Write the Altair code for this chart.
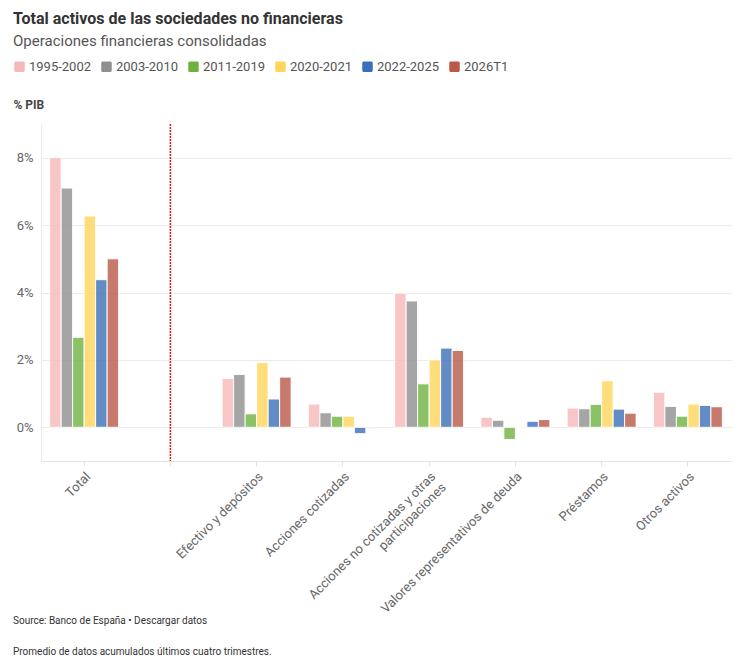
import altair as alt
import pandas as pd

# ---------------- data ----------------
CATEGORIES = [
    "Total",
    " ",
    "Efectivo y depósitos",
    "Acciones cotizadas",
    "Acciones no cotizadas y otras participaciones",
    "Valores representativos de deuda",
    "Préstamos",
    "Otros activos",
]
ASSET_CATS = [c for c in CATEGORIES if c.strip()]
PERIODS = ["1995-2002", "2003-2010", "2011-2019", "2020-2021", "2022-2025", "2026T1"]
COLORS = ["#f7b8b8", "#8f8f8f", "#6db33f", "#ffd55a", "#3a70b8", "#b85a48"]

V_1995_2002 = [8.00, 1.45, 0.69, 3.98, 0.30, 0.57, 1.04]
V_2003_2010 = [7.10, 1.57, 0.43, 3.75, 0.21, 0.55, 0.62]
V_2011_2019 = [2.67, 0.40, 0.33, 1.29, -0.36, 0.68, 0.33]
V_2020_2021 = [6.27, 1.92, 0.33, 2.00, -0.03, 1.38, 0.69]
V_2022_2025 = [4.38, 0.84, -0.19, 2.35, 0.18, 0.54, 0.65]
V_2026T1 = [5.00, 1.49, -0.03, 2.28, 0.23, 0.42, 0.61]
SERIES = [V_1995_2002, V_2003_2010, V_2011_2019, V_2020_2021, V_2022_2025, V_2026T1]

Y_TICKS = [0, 2, 4, 6, 8]

TITLE = "Total activos de las sociedades no financieras"
SUBTITLE = "Operaciones financieras consolidadas"
Y_TITLE = "% PIB"
SOURCE = "Source: Banco de España • Descargar datos"
NOTE = "Promedio de datos acumulados últimos cuatro trimestres."

rows = []
for p, vals in zip(PERIODS, SERIES):
    for c, v in zip(ASSET_CATS, vals):
        rows.append({"categoria": c, "periodo": p, "valor": v})
df = pd.DataFrame(rows)

FONT = "Roboto"

x_enc = alt.X(
    "categoria:N",
    sort=CATEGORIES,
    scale=alt.Scale(domain=CATEGORIES, paddingInner=0.2, paddingOuter=0.1),
    title=None,
    axis=alt.Axis(
        labelAngle=-45,
        labelFontSize=13,
        labelColor="#666666",
        labelFont=FONT,
        labelLimit=400,
        labelPadding=4,
        tickColor="#e3e3e3",
        domainColor="#e3e3e3",
        tickSize=5,
        grid=False,
        labelExpr="datum.label == 'Acciones no cotizadas y otras participaciones' ? ['Acciones no cotizadas y otras', 'participaciones'] : datum.label",
    ),
)

square_path = (
    "M -0.7 -1 H 0.7 A 0.3 0.3 0 0 1 1 -0.7 V 0.7 A 0.3 0.3 0 0 1 0.7 1 "
    "H -0.7 A 0.3 0.3 0 0 1 -1 0.7 V -0.7 A 0.3 0.3 0 0 1 -0.7 -1 Z"
)

bars = alt.Chart(df).mark_bar(opacity=0.8, stroke="white", strokeWidth=1).encode(
    x=x_enc,
    xOffset=alt.XOffset("periodo:N", sort=PERIODS, scale=alt.Scale(domain=PERIODS)),
    y=alt.Y(
        "valor:Q",
        scale=alt.Scale(domain=[-1, 9], nice=False, zero=True),
        axis=alt.Axis(
            values=Y_TICKS,
            labelExpr="datum.value + '%'",
            title=Y_TITLE,
            titleAngle=0,
            titleAlign="left",
            titleBaseline="middle",
            titleX=-28,
            titleY=-20,
            titleFont=FONT,
            titleFontSize=12,
            titleFontWeight="bold",
            titleColor="#444444",
            labelFont=FONT,
            labelFontSize=13,
            labelColor="#666666",
            labelPadding=8,
            ticks=False,
            grid=True,
            gridColor="#ebebeb",
            domainColor="#ebebeb",
        ),
    ),
    color=alt.Color(
        "periodo:N",
        sort=PERIODS,
        scale=alt.Scale(domain=PERIODS, range=COLORS),
        legend=alt.Legend(
            title=None,
            orient="none",
            legendX=-28,
            legendY=-64,
            direction="horizontal",
            symbolType=square_path,
            symbolSize=110,
            symbolOpacity=1,
            symbolStrokeWidth=0,
            labelFont=FONT,
            labelFontSize=13,
            labelColor="#555555",
            labelOffset=3,
            columnPadding=8,
        ),
    ),
)

sep = alt.Chart(pd.DataFrame({"categoria": [" "]})).mark_rule(
    color="#e8141c", strokeDash=[2, 1], strokeWidth=1.5
).encode(x=alt.X("categoria:N", sort=CATEGORIES))

source = alt.Chart(pd.DataFrame({"t": [SOURCE]})).mark_text(
    align="left", baseline="middle", font=FONT, fontSize=10, color="#333333"
).encode(text="t:N", x=alt.value(-28), y=alt.value(497))

note = alt.Chart(pd.DataFrame({"t": [NOTE]})).mark_text(
    align="left", baseline="middle", font=FONT, fontSize=10, color="#333333"
).encode(text="t:N", x=alt.value(-28), y=alt.value(528))

chart = (
    alt.layer(bars, sep, source, note)
    .properties(
        width=690,
        height=337,
        autosize=alt.AutoSizeParams(type="none"),
        padding={"left": 33, "top": 116, "right": 1, "bottom": 196},
        title=alt.TitleParams(
            text=TITLE,
            subtitle=SUBTITLE,
            anchor="start",
            offset=11,
            font=FONT,
            fontSize=16,
            fontWeight="bold",
            color="#333333",
            subtitleFont=FONT,
            subtitleFontSize=15,
            subtitleColor="#555555",
            subtitlePadding=7,
        ),
    )
    .configure_view(stroke=None)
)

chart.save("out.html", embed_options={"renderer": "svg", "actions": False})
